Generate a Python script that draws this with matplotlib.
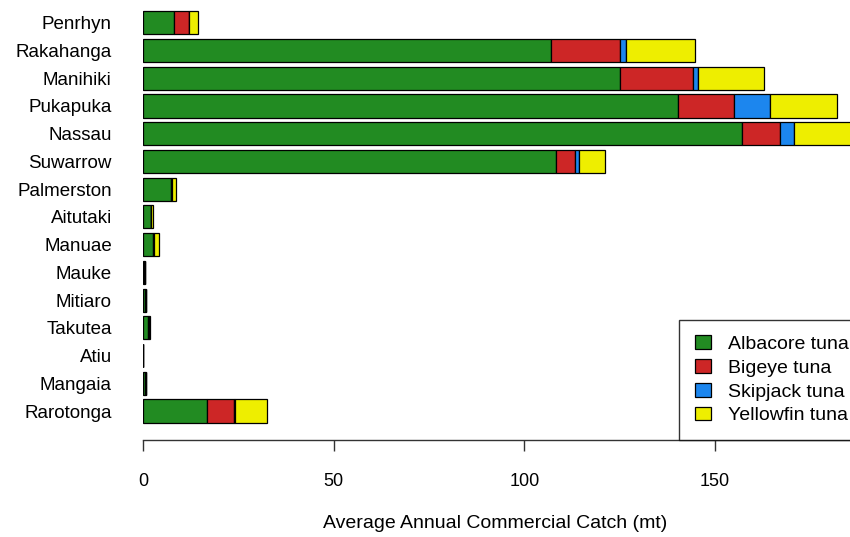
import numpy as np
import matplotlib
matplotlib.use("Agg")
import matplotlib.pyplot as plt

plt.rcParams['font.family'] = ['Liberation Sans', 'DejaVu Sans']

# islands, listed top to bottom
islands = ["Penrhyn", "Rakahanga", "Manihiki", "Pukapuka", "Nassau", "Suwarrow",
           "Palmerston", "Aitutaki", "Manuae", "Mauke", "Mitiaro", "Takutea",
           "Atiu", "Mangaia", "Rarotonga"]
species = ["Albacore tuna", "Bigeye tuna", "Skipjack tuna", "Yellowfin tuna"]

# average annual catch (mt)
albacore = [8.0, 106.9, 125.0, 140.2, 157.0, 108.2, 7.3, 2.0, 2.7, 0.3, 0.5, 1.4, 0.05, 0.5, 16.9]
bigeye = [4.0, 18.1, 19.1, 14.8, 10.1, 5.0, 0.3, 0.2, 0.3, 0.1, 0.2, 0.2, 0.02, 0.2, 7.0]
skipjack = [0.1, 1.6, 1.3, 9.5, 3.7, 1.0, 0.1, 0.0, 0.0, 0.0, 0.0, 0.0, 0.0, 0.0, 0.3]
yellowfin = [2.2, 18.2, 17.5, 17.5, 20.0, 6.9, 0.9, 0.5, 1.1, 0.1, 0.1, 0.2, 0.03, 0.1, 8.4]

colors = ["#228B22", "#CD2626", "#1C86EE", "#EEEE00"]
xticks = [0, 50, 100, 150]

W, H = 850, 537
fig = plt.figure(figsize=(W / 100, H / 100), dpi=100)
ax = fig.add_axes([143 / W, (H - 440) / H, 1 - 143 / W, 440 / H])

ypos = np.arange(len(islands))[::-1]
left = np.zeros(len(islands))
for vals, col, name in zip([albacore, bigeye, skipjack, yellowfin], colors, species):
    ax.barh(ypos, vals, left=left, height=0.833, color=col, edgecolor="black",
            linewidth=0.9, label=name)
    left += np.array(vals)

ax.set_xlim(0, 707 / 3.814)
ax.set_ylim(-29 / 27.73, 14 + 22.8 / 27.73)

for s in ["top", "right", "left"]:
    ax.spines[s].set_visible(False)
ax.spines["bottom"].set_color("#333333")
ax.spines["bottom"].set_linewidth(1.0)

ax.set_yticks(ypos)
ax.set_yticklabels(islands, fontsize=13.5)
ax.tick_params(axis="y", left=False, pad=19)
ax.set_xticks(xticks)
ax.set_xticklabels([str(t) for t in xticks], fontsize=13)
ax.tick_params(axis="x", length=8, width=1.0, color="#333333", pad=16)

fig.text(495 / W, 1 - 524 / H, "Average Annual Commercial Catch (mt)", fontsize=14,
         ha="center", va="center")

leg = ax.legend(loc="lower left", bbox_to_anchor=(679 / W, (H - 440) / H),
                bbox_transform=fig.transFigure, fontsize=14, frameon=True,
                fancybox=False, handlelength=0.85, handleheight=0.7,
                handletextpad=0.85, labelspacing=0.32, borderpad=0.8,
                borderaxespad=0)
leg.get_frame().set_edgecolor("black")
leg.get_frame().set_linewidth(1.0)

fig.savefig("out.png", dpi=100)
